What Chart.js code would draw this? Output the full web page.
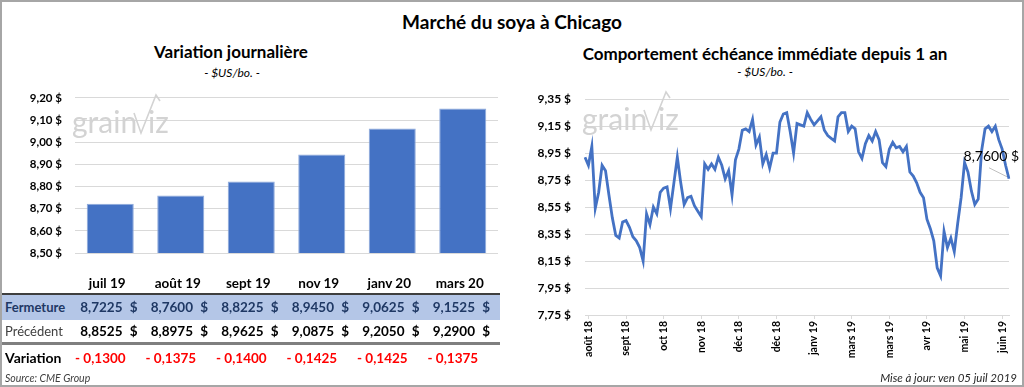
<!DOCTYPE html>
<html lang="fr">
<head>
<meta charset="utf-8">
<script src="https://cdn.jsdelivr.net/npm/chart.js@4.4.0/dist/chart.umd.min.js"></script>
<style>
  html, body { margin: 0; padding: 0; background: #fff; }
  body { width: 1024px; height: 387px; position: relative; overflow: hidden; font-family: Lato, 'Noto Sans', sans-serif; color: #000; }
  .frame { position: absolute; left: 0; top: 0; width: 1020px; height: 383px; border: 2px solid #a6a6a6; }
  .txt { position: absolute; white-space: nowrap; }
  .cell { position: absolute; white-space: nowrap; height: 24px; line-height: 24px; }
  canvas { position: absolute; }
</style>
</head>
<body>
<div class="frame"></div>

<div class="txt" style="left:0;width:1024px;top:10px;line-height:24px;text-align:center;font-weight:bold;font-size:19px;">Marché du soya à Chicago</div>
<div class="txt" style="left:81px;width:300px;top:41px;line-height:22px;text-align:center;font-weight:bold;font-size:17px;">Variation journalière</div>
<div class="txt" style="left:132px;width:200px;top:64px;line-height:18px;text-align:center;font-style:italic;font-size:12px;">- $US/bo. -</div>
<div class="txt" style="left:565px;width:400px;top:43px;line-height:22px;text-align:center;font-weight:bold;font-size:17px;">Comportement échéance immédiate depuis 1 an</div>
<div class="txt" style="left:665px;width:200px;top:63px;line-height:18px;text-align:center;font-style:italic;font-size:12px;">- $US/bo. -</div>

<canvas id="barChart" style="left:0;top:78px;" width="510" height="195"></canvas>
<canvas id="lineChart" style="left:512px;top:78px;" width="512" height="300"></canvas>

<div id="table"></div>

<div class="txt" style="left:5px;top:370px;line-height:16px;font-style:italic;font-size:10.5px;color:#404040;">Source: CME Group</div>
<div class="txt" style="right:7px;top:370px;line-height:16px;font-style:italic;font-size:11.5px;color:#262626;">Mise à jour: ven 05 juil 2019</div>

<script>
// Variation journalière
const contracts = ['juil 19', 'août 19', 'sept 19', 'nov 19', 'janv 20', 'mars 20'];
const closing = [8.7225, 8.7600, 8.8225, 8.9450, 9.0625, 9.1525];
const previous = [8.8525, 8.8975, 8.9625, 9.0875, 9.2050, 9.2900];
const variation = [-0.1300, -0.1375, -0.1400, -0.1425, -0.1425, -0.1375];
const barTicks = [8.50, 8.60, 8.70, 8.80, 8.90, 9.00, 9.10, 9.20];

// Comportement échéance immédiate (one point every ~1.5 trading days)
const frontMonth = [
  8.92, 8.86, 9.00, 8.54, 8.66, 8.86, 8.82, 8.64, 8.47, 8.34,
  8.32, 8.44, 8.45, 8.40, 8.33, 8.30, 8.25, 8.15, 8.50, 8.42,
  8.55, 8.50, 8.66, 8.69, 8.70, 8.54, 8.73, 8.92, 8.73, 8.57,
  8.62, 8.63, 8.56, 8.52, 8.48, 8.87, 8.83, 8.87, 8.83, 8.92,
  8.86, 8.76, 8.82, 8.64, 8.90, 8.98, 9.12, 9.13, 9.11, 9.20,
  9.01, 9.07, 8.87, 8.94, 8.84, 8.95, 8.95, 9.18, 9.24, 9.25,
  9.11, 8.95, 9.17, 9.16, 9.15, 9.25, 9.20, 9.16, 9.19, 9.22,
  9.12, 9.08, 9.06, 9.04, 9.22, 9.25, 9.25, 9.11, 9.15, 9.13,
  8.96, 8.91, 9.02, 9.08, 9.04, 9.11, 9.05, 8.88, 8.85, 8.98,
  9.03, 8.99, 9.00, 8.96, 9.00, 8.81, 8.78, 8.73, 8.66, 8.62,
  8.46, 8.39, 8.30, 8.10, 8.04, 8.37, 8.25, 8.32, 8.22, 8.43,
  8.62, 8.88, 8.81, 8.67, 8.57, 8.61, 8.97, 9.13, 9.15, 9.11,
  9.15, 9.05, 8.98, 8.86, 8.76
];
const monthLabels = ['août 18', 'sept 18', 'oct 18', 'nov 18', 'déc 18', 'déc 18',
                     'janv 19', 'mars 19', 'mars 19', 'avr 19', 'mai 19', 'juin 19'];
const labelEvery = 11;
const lineTicks = [7.75, 7.95, 8.15, 8.35, 8.55, 8.75, 8.95, 9.15, 9.35];

const fmt = (v, d) => v.toFixed(d).replace('.', ',');
const blue = '#4472C4';
const gridColor = '#d9d9d9';

// grainViz logo behind the data
const watermark = {
  id: 'watermark',
  beforeDatasetsDraw(chart) {
    const o = chart.options.plugins.watermark;
    const ctx = chart.ctx;
    ctx.save();
    ctx.fillStyle = '#d3d3d3';
    ctx.strokeStyle = '#d3d3d3';
    ctx.font = '30px Lato, sans-serif';
    ctx.textBaseline = 'alphabetic';
    ctx.fillText('grain', o.x, o.y);
    ctx.lineWidth = 1.6;
    ctx.beginPath();
    ctx.moveTo(o.x + 62, o.y - 20);
    ctx.lineTo(o.x + 69, o.y);
    ctx.lineTo(o.x + 84, o.y - 38);
    ctx.lineTo(o.x + 88, o.y - 32);
    ctx.stroke();
    ctx.fillText('iz', o.x + 76, o.y);
    ctx.restore();
  }
};

// "8,7600 $" callout on the last point
const lastLabel = {
  id: 'lastLabel',
  afterDatasetsDraw(chart) {
    const pts = chart.getDatasetMeta(0).data;
    const p = pts[pts.length - 1];
    const ctx = chart.ctx;
    ctx.save();
    ctx.strokeStyle = '#bfbfbf';
    ctx.lineWidth = 1;
    ctx.beginPath();
    ctx.moveTo(p.x - 20, p.y - 11);
    ctx.lineTo(p.x - 2, p.y - 2);
    ctx.stroke();
    ctx.fillStyle = '#000';
    ctx.font = '14px Lato, sans-serif';
    ctx.textAlign = 'right';
    ctx.fillText(fmt(frontMonth[frontMonth.length - 1], 4) + ' $', p.x + 10, p.y - 18);
    ctx.restore();
  }
};

new Chart(document.getElementById('barChart'), {
  type: 'bar',
  data: {
    labels: contracts,
    datasets: [{
      data: closing,
      backgroundColor: blue,
      borderColor: '#8eaadb',
      borderWidth: 1,
      barPercentage: 0.667,
      categoryPercentage: 1.0
    }]
  },
  options: {
    responsive: false,
    animation: false,
    layout: { padding: { top: 9, right: 12, bottom: 8, left: 0 } },
    plugins: {
      legend: { display: false },
      tooltip: { enabled: false },
      watermark: { x: 72, y: 55 }
    },
    scales: {
      x: { display: false },
      y: {
        min: 8.5,
        max: 9.2,
        afterBuildTicks: s => { s.ticks = barTicks.map(v => ({ value: v })); },
        afterFit: s => { s.width = 75; },
        border: { display: false },
        grid: { color: gridColor, drawTicks: false },
        ticks: {
          padding: 13,
          color: '#000',
          font: { family: 'Lato', size: 11.5, weight: 'bold' },
          callback: v => fmt(v, 2) + ' $'
        }
      }
    }
  },
  plugins: [watermark]
});

new Chart(document.getElementById('lineChart'), {
  type: 'line',
  data: {
    labels: frontMonth.map((v, i) => (i - 1) % labelEvery === 0 ? monthLabels[(i - 1) / labelEvery] : ''),
    datasets: [{
      data: frontMonth,
      borderColor: blue,
      borderWidth: 2.8,
      pointRadius: 0,
      tension: 0,
      fill: false
    }]
  },
  options: {
    responsive: false,
    animation: false,
    layout: { padding: { top: 9, right: 15, bottom: 0, left: 0 } },
    plugins: {
      legend: { display: false },
      tooltip: { enabled: false },
      watermark: { x: 70, y: 52 }
    },
    scales: {
      x: {
        afterFit: s => { s.height = 63; },
        border: { color: gridColor },
        grid: { drawOnChartArea: false, color: gridColor, tickLength: 4 },
        ticks: {
          autoSkip: false,
          minRotation: 90,
          maxRotation: 90,
          padding: 2,
          color: '#000',
          font: { family: 'Lato', size: 10.5, weight: 'bold' },
          callback: function (v) {
            const l = this.getLabelForValue(v);
            return l === '' ? null : l;
          }
        }
      },
      y: {
        min: 7.75,
        max: 9.35,
        afterBuildTicks: s => { s.ticks = lineTicks.map(v => ({ value: v })); },
        afterFit: s => { s.width = 73; },
        border: { display: false },
        grid: { color: gridColor, drawTicks: false },
        ticks: {
          padding: 14,
          color: '#000',
          font: { family: 'Lato', size: 12, weight: 'bold' },
          callback: v => fmt(v, 2) + ' $'
        }
      }
    }
  },
  plugins: [watermark, lastLabel]
});

// table under the bar chart
const table = document.getElementById('table');
const colLeft = 75, colW = 70.5;
let html = '';
html += '<div style="position:absolute;left:2px;top:293px;width:498px;height:25px;background:#b4c6e7;border-top:2px solid #3f3f3f;"></div>';
html += '<div style="position:absolute;left:2px;top:342px;width:498px;height:0;border-top:3px solid #7f7f7f;"></div>';
html += '<div class="cell" style="left:5px;top:295px;font-size:13px;font-weight:bold;color:#1f3864;">Fermeture</div>';
html += '<div class="cell" style="left:5px;top:319px;font-size:13px;color:#404040;">Précédent</div>';
html += '<div class="cell" style="left:5px;top:346px;font-size:14px;font-weight:bold;">Variation</div>';
contracts.forEach((c, k) => {
  const left = colLeft + colW * k;
  html += `<div class="cell" style="left:${left}px;width:${colW - 6}px;top:271px;text-align:center;font-size:13.5px;font-weight:bold;">${c}</div>`;
  const dollar = '<span style="display:inline-block;width:15px;text-align:right;">$</span>';
  html += `<div class="cell" style="left:${left}px;width:${colW - 8}px;top:295px;text-align:right;font-size:13.5px;font-weight:bold;color:#1f3864;">${fmt(closing[k], 4)}${dollar}</div>`;
  html += `<div class="cell" style="left:${left}px;width:${colW - 8}px;top:319px;text-align:right;font-size:13.5px;font-weight:bold;">${fmt(previous[k], 4)}${dollar}</div>`;
  html += `<div class="cell" style="left:${left}px;width:${colW - 23}px;top:346px;text-align:right;font-size:13.5px;font-weight:bold;color:#ff0000;">- ${fmt(Math.abs(variation[k]), 4)}</div>`;
});
table.innerHTML = html;
</script>
</body>
</html>
